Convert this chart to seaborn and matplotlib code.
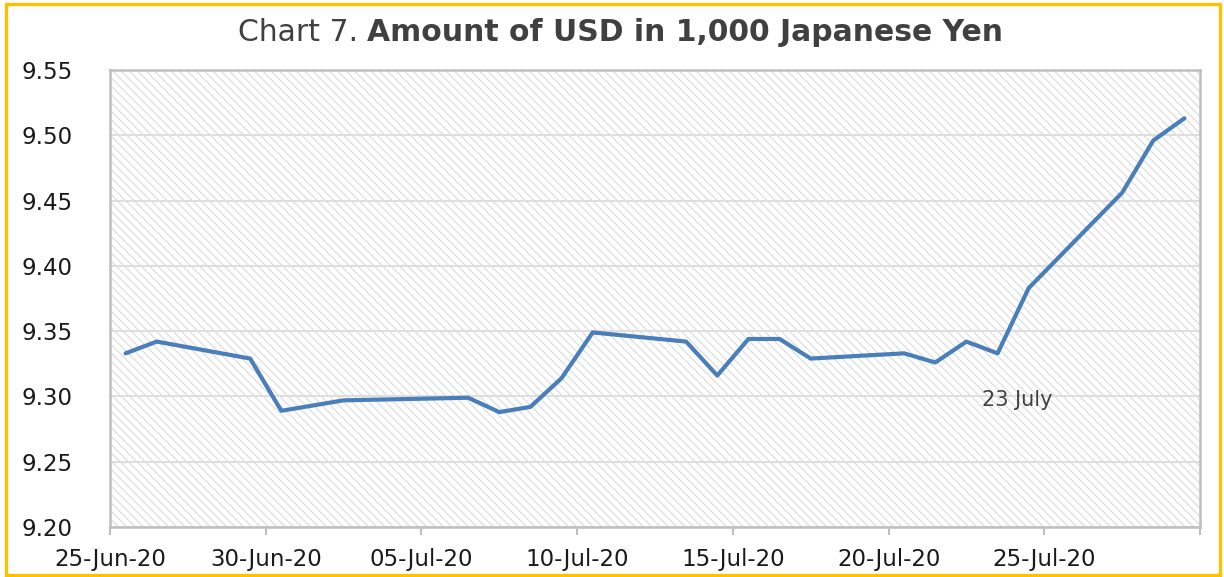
import pandas as pd
import matplotlib.pyplot as plt
import matplotlib.dates as mdates
from matplotlib.patches import Rectangle
import seaborn as sns

# Data (USD per 1,000 JPY)
dates = ['2020-06-25', '2020-06-26', '2020-06-29', '2020-06-30', '2020-07-02',
         '2020-07-06', '2020-07-07', '2020-07-08', '2020-07-09', '2020-07-10',
         '2020-07-13', '2020-07-14', '2020-07-15', '2020-07-16', '2020-07-17',
         '2020-07-20', '2020-07-21', '2020-07-22', '2020-07-23', '2020-07-24',
         '2020-07-27', '2020-07-28', '2020-07-29']
usd = [9.333, 9.342, 9.329, 9.289, 9.297,
       9.299, 9.288, 9.292, 9.314, 9.349,
       9.342, 9.316, 9.344, 9.344, 9.329,
       9.333, 9.326, 9.342, 9.333, 9.383,
       9.456, 9.496, 9.513]
y_ticks = [9.20, 9.25, 9.30, 9.35, 9.40, 9.45, 9.50, 9.55]
x_ticks = ['2020-06-25', '2020-06-30', '2020-07-05', '2020-07-10',
           '2020-07-15', '2020-07-20', '2020-07-25', '2020-07-30']

df = pd.DataFrame({'date': pd.to_datetime(dates), 'usd': usd})
# Excel date axis puts each point in the middle of its day
df['x'] = df['date'] + pd.Timedelta(hours=12)

sns.set_theme(style='white')
plt.rcParams['font.family'] = ['DejaVu Sans']
plt.rcParams['hatch.linewidth'] = 0.8

fig = plt.figure(figsize=(12.24, 5.77), dpi=100)
ax = fig.add_axes([110 / 1224, 1 - 527 / 577, 1090 / 1224, 457 / 577])

# hatched plot area background
ax.add_patch(Rectangle((0, 0), 1, 1, transform=ax.transAxes, facecolor='white',
                       edgecolor='#dadada', hatch='\\\\\\\\', lw=0, zorder=0))

sns.lineplot(data=df, x='x', y='usd', ax=ax, color='#4a7ebb', linewidth=3.0, zorder=3)

ax.set_ylim(9.20, 9.55)
ax.set_yticks(y_ticks)
ax.set_yticklabels([f'{v:.2f}' for v in y_ticks])
ax.set_xlim(pd.Timestamp('2020-06-25'), pd.Timestamp('2020-07-30'))
ax.set_xticks(pd.to_datetime(x_ticks))
labels = [pd.Timestamp(d).strftime('%d-%b-%y') for d in x_ticks[:-1]] + ['']
ax.set_xticklabels(labels)

ax.set_xlabel('')
ax.set_ylabel('')
ax.grid(axis='y', color='#dedede', linewidth=1.5)
ax.set_axisbelow(True)
for s in ax.spines.values():
    s.set_color('#bfbfbf')
    s.set_linewidth(1.8)

ax.tick_params(axis='x', length=6, width=1.5, color='#bfbfbf', direction='out',
               bottom=True, pad=9, labelsize=16.5, labelcolor='#1a1a1a')
ax.tick_params(axis='y', length=0, pad=27, labelsize=16.5, labelcolor='#1a1a1a')

ax.text(pd.Timestamp('2020-07-23'), 9.297, '23 July', fontsize=15,
        color='#404040', ha='left', va='center')

# title: normal prefix + bold part
fig.canvas.draw()
t1 = fig.text(0.5, 0.943, 'Chart 7. ', fontsize=21.5, color='#404040', va='center', ha='left')
t2 = fig.text(0.5, 0.943, 'Amount of USD in 1,000 Japanese Yen', fontsize=21.5,
              fontweight='bold', color='#404040', va='center', ha='left')
r = fig.canvas.get_renderer()
w1 = t1.get_window_extent(r).width / fig.bbox.width
w2 = t2.get_window_extent(r).width / fig.bbox.width
x0 = 0.507 - (w1 + w2) / 2
t1.set_x(x0)
t2.set_x(x0 + w1)

# yellow frame round the chart
fig.add_artist(Rectangle((6 / 1224, 2 / 577), 1214 / 1224, 571 / 577,
                         transform=fig.transFigure, fill=False,
                         edgecolor='#ffc000', linewidth=2.4))

fig.savefig('out.png', dpi=100)
